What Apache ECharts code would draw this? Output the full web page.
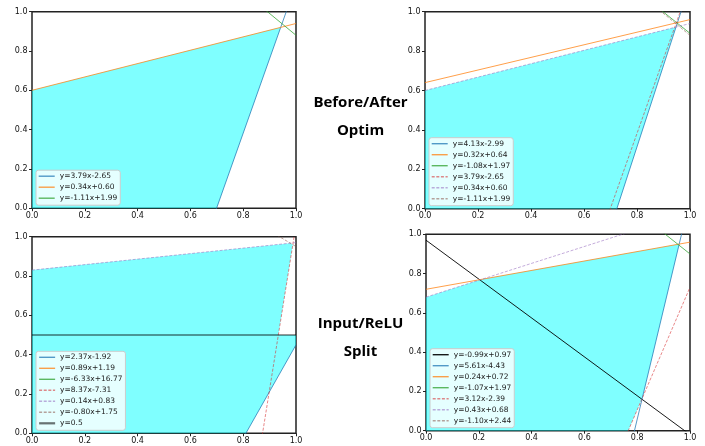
<!DOCTYPE html>
<html>
<head>
<meta charset="utf-8">
<script src="https://cdn.jsdelivr.net/npm/echarts@6/dist/echarts.min.js"></script>
<style>
  html, body { margin: 0; padding: 0; background: #fff; }
  #chart { width: 705px; height: 446px; }
</style>
</head>
<body>
<div id="chart"></div>
<script>
// Bounding lines y = slope * x + intercept, one pair of arrays per panel
const beforeSlopes = [3.79, 0.34, -1.11];
const beforeIntercepts = [-2.65, 0.60, 1.99];

const afterSlopes = [4.13, 0.32, -1.08, 3.79, 0.34, -1.11];
const afterIntercepts = [-2.99, 0.64, 1.97, -2.65, 0.60, 1.99];

const inputSplitSlopes = [2.37, 0.89, -6.33, 8.37, 0.14, -0.80, 0];
const inputSplitIntercepts = [-1.92, 1.19, 16.77, -7.31, 0.83, 1.75, 0.5];

const reluSplitSlopes = [-0.99, 5.61, 0.24, -1.07, 3.12, 0.43, -1.10];
const reluSplitIntercepts = [0.97, -4.43, 0.72, 1.97, -2.39, 0.68, 2.44];

// Shaded regions: lists of [line index, side], side +1 keeps y >= line, -1 keeps y <= line
const beforeRegions = [[[0, 1], [1, -1], [2, -1]]];
const afterRegions = [[[0, 1], [4, -1], [2, -1]]];
const inputSplitRegions = [
  [[6, 1], [3, 1], [4, -1], [5, -1]],
  [[6, -1], [0, 1]]
];
const reluSplitRegions = [[[1, 1], [4, 1], [2, -1], [5, -1], [3, -1]]];

const axisMin = 0;
const axisMax = 1;
const axisStep = 0.2;
const captionLines = [['Before/After', 'Optim'], ['Input/ReLU', 'Split']];

// Line appearance for each panel (keys into the style table below)
const beforeStyles = ['blue', 'orange', 'green'];
const afterStyles = ['blue', 'orange', 'green', 'redDash', 'purpleDash', 'brownDash'];
const inputSplitStyles = ['blue', 'orange', 'green', 'redDash', 'purpleDash', 'brownDash', 'split'];
const reluSplitStyles = ['black', 'blue', 'orange', 'green', 'redDash', 'purpleDash', 'brownDash'];

const DASH = [3, 1.6];
const lineStyles = {
  blue:       { color: '#1f77b4', type: 'solid', width: 1, opacity: 0.75 },
  orange:     { color: '#ff7f0e', type: 'solid', width: 1, opacity: 0.75 },
  green:      { color: '#2ca02c', type: 'solid', width: 1, opacity: 0.75 },
  redDash:    { color: '#d62728', type: DASH, width: 1, opacity: 0.55 },
  purpleDash: { color: '#9467bd', type: DASH, width: 1, opacity: 0.55 },
  brownDash:  { color: '#8c564b', type: DASH, width: 1, opacity: 0.55 },
  black:      { color: '#000000', type: 'solid', width: 1, opacity: 0.9 },
  split:      { color: '#000000', type: 'solid', width: 1.6, opacity: 0.55 }
};

const panels = [
  { slopes: beforeSlopes, intercepts: beforeIntercepts, styles: beforeStyles, regions: beforeRegions,
    box: { left: 32, top: 11.7, width: 264, height: 196.5 } },
  { slopes: afterSlopes, intercepts: afterIntercepts, styles: afterStyles, regions: afterRegions,
    box: { left: 425, top: 11.7, width: 265, height: 197 } },
  { slopes: inputSplitSlopes, intercepts: inputSplitIntercepts, styles: inputSplitStyles, regions: inputSplitRegions,
    box: { left: 32, top: 236.7, width: 264, height: 196.6 } },
  { slopes: reluSplitSlopes, intercepts: reluSplitIntercepts, styles: reluSplitStyles, regions: reluSplitRegions,
    box: { left: 426, top: 234.3, width: 264, height: 196.4 } }
];

function lineLabel(m, b) {
  if (m === 0) return 'y=' + b;
  return 'y=' + m.toFixed(2) + 'x' + (b < 0 ? '-' : '+') + Math.abs(b).toFixed(2);
}

// Clip a polygon to one side of the line y = m x + b
function clipHalfPlane(poly, m, b, side) {
  const f = p => side * (p[1] - (m * p[0] + b));
  const out = [];
  for (let i = 0; i < poly.length; i++) {
    const a = poly[i], c = poly[(i + 1) % poly.length];
    const fa = f(a), fc = f(c);
    if (fa >= 0) out.push(a);
    if ((fa >= 0) !== (fc >= 0)) {
      const t = fa / (fa - fc);
      out.push([a[0] + t * (c[0] - a[0]), a[1] + t * (c[1] - a[1])]);
    }
  }
  return out;
}

function regionPolygon(panel, region) {
  let poly = [[axisMin, axisMin], [axisMax, axisMin], [axisMax, axisMax], [axisMin, axisMax]];
  region.forEach(([idx, side]) => {
    poly = clipHalfPlane(poly, panel.slopes[idx], panel.intercepts[idx], side);
  });
  return poly;
}

const FONT = 'DejaVu Sans';
const grids = [], xAxes = [], yAxes = [], series = [], legends = [];

panels.forEach((panel, pi) => {
  const b = panel.box;
  grids.push({
    left: b.left, top: b.top, width: b.width, height: b.height,
    show: true, borderColor: '#222', borderWidth: 1.5, backgroundColor: 'transparent',
    containLabel: false
  });
  const axisCommon = {
    type: 'value', gridIndex: pi, min: axisMin, max: axisMax, interval: axisStep,
    splitLine: { show: false },
    axisLine: { show: false },
    axisTick: { show: true, inside: false, length: 3, lineStyle: { color: '#222', width: 1 } },
    axisLabel: {
      color: '#111', fontFamily: FONT, fontSize: 8,
      formatter: v => v.toFixed(1), showMinLabel: true, showMaxLabel: true
    }
  };
  xAxes.push(Object.assign({}, axisCommon, {
    axisLabel: Object.assign({}, axisCommon.axisLabel, { margin: 3.5 })
  }));
  yAxes.push(Object.assign({}, axisCommon, {
    axisLabel: Object.assign({}, axisCommon.axisLabel, { margin: 4.5 })
  }));

  // shaded region(s)
  panel.regions.forEach(region => {
    const poly = regionPolygon(panel, region);
    series.push({
      type: 'custom', xAxisIndex: pi, yAxisIndex: pi, silent: true, z: 1,
      data: poly,
      renderItem: (params, api) => {
        if (params.dataIndex !== 0) return null;
        return {
          type: 'polygon',
          shape: { points: poly.map(p => api.coord(p)) },
          style: { fill: 'rgba(0,255,255,0.5)', stroke: null }
        };
      }
    });
  });

  // bounding lines
  const legendData = [];
  panel.slopes.forEach((m, i) => {
    const c = panel.intercepts[i];
    const st = lineStyles[panel.styles[i]];
    const name = lineLabel(m, c);
    series.push({
      type: 'line', name: name, xAxisIndex: pi, yAxisIndex: pi, z: 3,
      color: st.color,
      symbol: 'none', showSymbol: false, clip: true, silent: true, animation: false,
      data: [[axisMin, m * axisMin + c], [axisMax, m * axisMax + c]],
      itemStyle: { color: st.color, opacity: 0 },
      lineStyle: { color: st.color, type: st.type, width: st.width, opacity: st.opacity }
    });
    legendData.push({
      name: name,
      itemStyle: { color: st.color, opacity: 0, borderWidth: 0 },
      lineStyle: { color: st.color, type: st.type, width: Math.max(st.width * 1.4, 1.4), opacity: st.opacity }
    });
  });

  legends.push({
    data: legendData,
    orient: 'vertical',
    left: b.left + 4,
    top: b.top + b.height - 3 - (legendData.length * 11 - 3 + 5),
    itemWidth: 16, itemHeight: 8, itemGap: 3,
    padding: [2, 3, 3, 2],
    selectedMode: false,
    backgroundColor: 'rgba(255,255,255,0.8)',
    borderColor: '#cccccc', borderWidth: 1, borderRadius: 2.5,
    textStyle: { fontFamily: FONT, fontSize: 7.5, color: '#222' },
    z: 10
  });
});

// captions between the columns
const graphics = [];
captionLines.forEach((pair, k) => {
  const baseY = k === 0 ? 103 : 324;
  pair.forEach((txt, j) => {
    graphics.push({
      type: 'text', x: 360.5, y: baseY + j * 28, z: 20,
      style: {
        text: txt, fill: '#000', font: 'bold 15px "Open Sans"',
        align: 'center', verticalAlign: 'middle'
      }
    });
  });
});

const chart = echarts.init(document.getElementById('chart'), null, { renderer: 'canvas' });
chart.setOption({
  animation: false,
  backgroundColor: '#fff',
  grid: grids,
  xAxis: xAxes,
  yAxis: yAxes,
  legend: legends,
  series: series,
  graphic: graphics
});
</script>
</body>
</html>
